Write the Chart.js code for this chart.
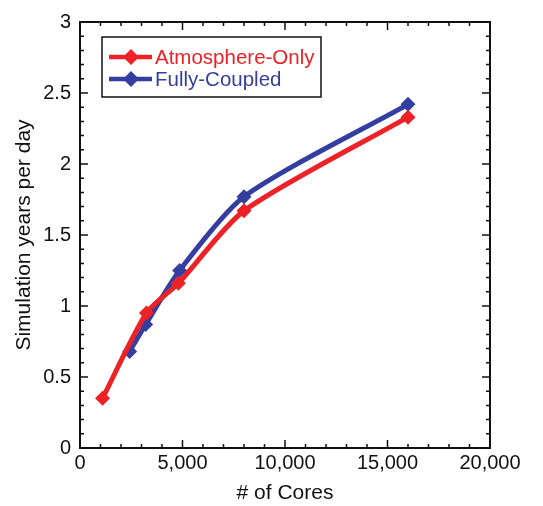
<!DOCTYPE html>
<html>
<head>
<meta charset="utf-8">
<script src="https://cdn.jsdelivr.net/npm/chart.js@4.4.1/dist/chart.umd.min.js"></script>
<style>
  html, body { margin: 0; padding: 0; background: #fff; }
  #wrap { width: 543px; height: 506px; }
</style>
</head>
<body>
<div id="wrap"><canvas id="coresChart"></canvas></div>
<script>
// data
const atmosCores = [1100, 3240, 4800, 8000, 16000];
const atmosYears = [0.35, 0.95, 1.16, 1.67, 2.33];
const coupledCores = [2420, 3200, 4860, 8000, 16000];
const coupledYears = [0.68, 0.87, 1.25, 1.77, 2.42];

const xTicks = [0, 5000, 10000, 15000, 20000];
const yTicks = [0, 0.5, 1, 1.5, 2, 2.5, 3];

const RED = 'rgb(236, 34, 38)';
const BLUE = 'rgb(52, 62, 160)';
const FONT = '"Liberation Sans", Arial, Helvetica, sans-serif';

Chart.defaults.font.family = FONT;
Chart.defaults.color = '#111';

function toPoints(xs, ys) {
  return xs.map((x, i) => ({ x: x, y: ys[i] }));
}

// frame with inward ticks on all four sides, plus the boxed legend
const framePlugin = {
  id: 'frame',
  afterDraw(chart) {
    const c = chart.ctx;
    const a = chart.chartArea;
    const xs = chart.scales.x;
    const ys = chart.scales.y;
    c.save();
    c.strokeStyle = '#111';
    c.lineWidth = 2;
    c.strokeRect(a.left, a.top, a.right - a.left, a.bottom - a.top);
    c.lineWidth = 1.5;
    c.beginPath();
    for (let v = 0; v <= 20000; v += 1000) {
      const px = xs.getPixelForValue(v);
      const len = v % 5000 === 0 ? 8 : 4;
      c.moveTo(px, a.bottom); c.lineTo(px, a.bottom - len);
      c.moveTo(px, a.top); c.lineTo(px, a.top + len);
    }
    for (let i = 0; i <= 30; i++) {
      const py = ys.getPixelForValue(i / 10);
      const len = i % 5 === 0 ? 8 : 4;
      c.moveTo(a.left, py); c.lineTo(a.left + len, py);
      c.moveTo(a.right, py); c.lineTo(a.right - len, py);
    }
    c.stroke();

    // legend box
    const bx = 102, by = 37, bw = 219, bh = 60;
    c.lineWidth = 1.5;
    c.strokeRect(bx, by, bw, bh);
    chart.data.datasets.forEach((ds, i) => {
      const cy = 57 + i * 22;
      c.strokeStyle = ds.borderColor;
      c.lineWidth = 4.5;
      c.beginPath();
      c.moveTo(109, cy); c.lineTo(152, cy);
      c.stroke();
      c.fillStyle = ds.borderColor;
      c.beginPath();
      c.moveTo(131, cy - 8); c.lineTo(139, cy); c.lineTo(131, cy + 8); c.lineTo(123, cy);
      c.closePath();
      c.fill();
      c.font = '20.5px ' + FONT;
      c.textBaseline = 'middle';
      c.fillText(ds.label, 155, cy + 1);
    });
    c.restore();
  }
};

const ctx = document.getElementById('coresChart').getContext('2d');

new Chart(ctx, {
  type: 'scatter',
  data: {
    datasets: [
      {
        label: 'Atmosphere-Only',
        data: toPoints(atmosCores, atmosYears),
        borderColor: RED,
        backgroundColor: RED,
        showLine: true,
        borderWidth: 5,
        tension: 0.25,
        pointStyle: 'rectRot',
        pointRadius: 7.5,
        pointBorderWidth: 0
      },
      {
        label: 'Fully-Coupled',
        data: toPoints(coupledCores, coupledYears),
        borderColor: BLUE,
        backgroundColor: BLUE,
        showLine: true,
        borderWidth: 5,
        tension: 0.25,
        pointStyle: 'rectRot',
        pointRadius: 7.5,
        pointBorderWidth: 0
      }
    ]
  },
  options: {
    responsive: true,
    maintainAspectRatio: false,
    animation: false,
    layout: { padding: { left: 0, right: 53, top: 22, bottom: 0 } },
    plugins: {
      legend: { display: false },
      tooltip: { enabled: false }
    },
    scales: {
      x: {
        type: 'linear',
        min: 0,
        max: 20000,
        afterBuildTicks(scale) { scale.ticks = xTicks.map(v => ({ value: v })); },
        afterFit(scale) { scale.height = 58; },
        grid: { display: false, drawTicks: false },
        border: { display: false },
        ticks: {
          padding: 3,
          font: { size: 20 },
          color: '#111',
          maxRotation: 0,
          callback: v => v.toLocaleString('en-US')
        },
        title: {
          display: true,
          text: '# of Cores',
          font: { size: 21 },
          color: '#111',
          padding: { top: 2, bottom: 0 }
        }
      },
      y: {
        type: 'linear',
        min: 0,
        max: 3,
        afterBuildTicks(scale) { scale.ticks = yTicks.map(v => ({ value: v })); },
        afterFit(scale) { scale.width = 80; },
        grid: { display: false, drawTicks: false },
        border: { display: false },
        ticks: {
          padding: 9,
          font: { size: 20 },
          color: '#111',
          callback: v => String(v)
        },
        title: {
          display: true,
          text: 'Simulation years per day',
          font: { size: 21 },
          color: '#111',
          padding: { top: 12, bottom: 0 }
        }
      }
    }
  },
  plugins: [framePlugin]
});
</script>
</body>
</html>
